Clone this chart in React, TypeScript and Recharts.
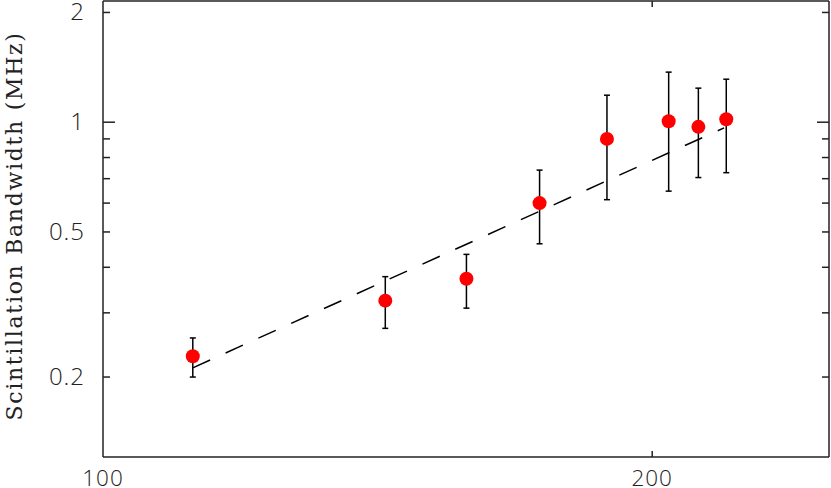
import React from 'react';
import { ComposedChart, Scatter, XAxis, YAxis, ErrorBar } from 'recharts';

const freqs = [112.0, 142.8, 158.2, 173.5, 188.9, 204.2, 212.0, 219.6];
const bandwidths = [0.228, 0.324, 0.372, 0.600, 0.900, 1.006, 0.971, 1.019];
const bwLow = [0.200, 0.272, 0.309, 0.464, 0.613, 0.647, 0.705, 0.727];
const bwHigh = [0.256, 0.377, 0.434, 0.739, 1.186, 1.372, 1.240, 1.312];

const fitX = [112.0, 219.0];
const fitY = [0.212, 0.965];

const xTicks = [100, 200];
const xTopTicks = [200];
const yTicks = [0.2, 0.3, 0.4, 0.5, 0.6, 0.7, 0.8, 0.9, 1, 2];
const yLabeled = [0.2, 0.5, 1, 2];
const yLong = [1];

const points = freqs.map((f, i) => ({
  x: f,
  y: bandwidths[i],
  err: [bandwidths[i] - bwLow[i], bwHigh[i] - bandwidths[i]],
}));
const fit = fitX.map((f, i) => ({ x: f, y: fitY[i] }));

const AX = '#222';
const tickFont = "'Open Sans', 'DejaVu Sans', sans-serif";

const LeftTick = (props: any) => {
  const { x, y, payload } = props;
  const v = payload.value;
  const len = yLong.includes(v) ? 12 : 7;
  return (
    <g>
      <line x1={x} y1={y} x2={x + len} y2={y} stroke={AX} strokeWidth={1.5} />
      {yLabeled.includes(v) && (
        <text x={x - 18} y={y} dy={8} textAnchor="end" fontFamily={tickFont} fontWeight={300} fontSize={24} letterSpacing={1} fill={AX}>
          {String(v)}
        </text>
      )}
    </g>
  );
};

const RightTick = (props: any) => {
  const { x, y, payload } = props;
  const len = yLong.includes(payload.value) ? 12 : 7;
  return <line x1={x} y1={y} x2={x - len} y2={y} stroke={AX} strokeWidth={1.5} />;
};

const BottomTick = (props: any) => {
  const { x, y, payload } = props;
  return (
    <g>
      {payload.value !== 100 && <line x1={x} y1={y} x2={x} y2={y - 6} stroke={AX} strokeWidth={1.5} />}
      <text x={x} y={y + 29} textAnchor="middle" fontFamily={tickFont} fontWeight={300} fontSize={22.5} letterSpacing={1} fill={AX}>
        {String(payload.value)}
      </text>
    </g>
  );
};

const TopTick = (props: any) => {
  const { x, y } = props;
  return <line x1={x} y1={y} x2={x} y2={y + 6} stroke={AX} strokeWidth={1.5} />;
};

const Dot = (props: any) => <circle cx={props.cx} cy={props.cy} r={7} fill="#ff0000" />;
const Empty = () => <g />;

export default function App() {
  return (
    <div style={{ position: 'absolute', left: 0, top: 0, width: 831, height: 488, background: '#fff' }}>
      <ComposedChart width={831} height={488} margin={{ top: 0, right: 0, bottom: 0, left: 0 }}>
        <XAxis
          dataKey="x"
          type="number"
          scale="log"
          domain={[100, 250]}
          allowDataOverflow
          ticks={xTicks}
          height={31}
          tickSize={0}
          tickMargin={0}
          tickLine={false}
          axisLine={{ stroke: AX, strokeWidth: 1.5 }}
          tick={<BottomTick />}
          interval={0}
        />
        <XAxis
          xAxisId="top"
          orientation="top"
          dataKey="x"
          type="number"
          scale="log"
          domain={[100, 250]}
          allowDataOverflow
          ticks={xTopTicks}
          height={1}
          tickSize={0}
          tickMargin={0}
          tickLine={false}
          axisLine={{ stroke: AX, strokeWidth: 1.5 }}
          tick={<TopTick />}
          interval={0}
        />
        <YAxis
          dataKey="y"
          type="number"
          scale="log"
          domain={[0.1207, 2.15]}
          allowDataOverflow
          ticks={yTicks}
          width={103}
          tickSize={0}
          tickMargin={0}
          tickLine={false}
          axisLine={{ stroke: AX, strokeWidth: 1.5 }}
          tick={<LeftTick />}
          interval={0}
          label={{
            content: () => (
              <text
                x={22}
                y={226}
                transform="rotate(-90 22 226)"
                textAnchor="middle"
                fontFamily="'DejaVu Serif', serif"
                fontSize={22}
                letterSpacing={1.7}
                fill="#222"
              >
                Scintillation Bandwidth (MHz)
              </text>
            ),
          }}
        />
        <YAxis
          yAxisId="right"
          orientation="right"
          dataKey="y"
          type="number"
          scale="log"
          domain={[0.1207, 2.15]}
          allowDataOverflow
          ticks={yTicks}
          width={2}
          tickSize={0}
          tickMargin={0}
          tickLine={false}
          axisLine={{ stroke: AX, strokeWidth: 1.5 }}
          tick={<RightTick />}
          interval={0}
        />
        <Scatter
          data={fit}
          dataKey="y"
          isAnimationActive={false}
          line={{ stroke: '#000', strokeWidth: 1.5, strokeDasharray: '19 17' }}
          lineType="joint"
          shape={<Empty />}
        />
        <Scatter data={points} dataKey="y" isAnimationActive={false} shape={<Dot />} />
        <Scatter data={points} dataKey="y" isAnimationActive={false} shape={<Empty />}>
          <ErrorBar dataKey="err" direction="y" width={3} stroke="#000" strokeWidth={1.5} isAnimationActive={false} />
        </Scatter>
      </ComposedChart>
    </div>
  );
}
